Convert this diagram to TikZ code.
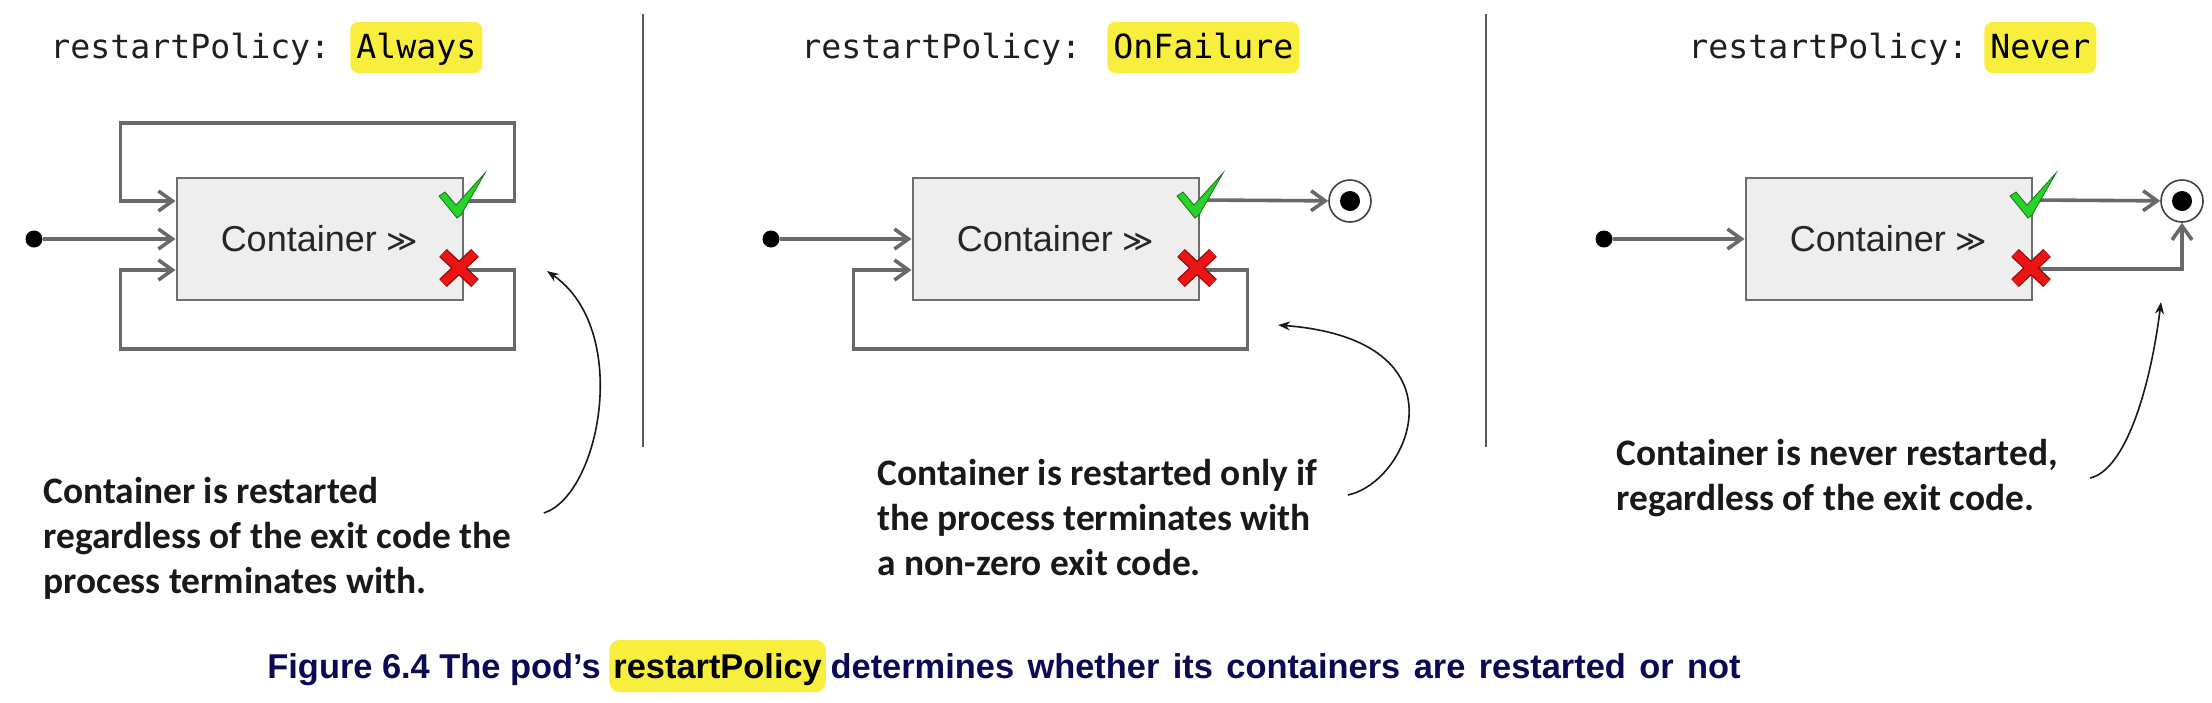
\documentclass[tikz,border=0pt]{standalone}
\usepackage{fontspec}
\setmainfont{Liberation Sans}
\newfontfamily\monofont{DejaVu Sans Mono}
\newfontfamily\notefont{Carlito}
\newfontfamily\symfont{DejaVu Sans}
\usetikzlibrary{arrows.meta, positioning}
\definecolor{linegray}{RGB}{105,105,105}
\definecolor{boxfill}{RGB}{238,238,238}
\definecolor{boxborder}{RGB}{110,110,110}
\definecolor{hlyellow}{RGB}{247,238,62}
\definecolor{okgreen}{RGB}{40,210,40}
\definecolor{errred}{RGB}{235,20,20}
\definecolor{capblue}{RGB}{10,10,85}

\begin{document}
\begin{tikzpicture}[
    x=0.5pt, y=-0.5pt,
    cbox/.style={rectangle, draw=boxborder, fill=boxfill, line width=1pt,
                 minimum width=143pt, minimum height=61pt, inner sep=0pt,
                 font=\fontsize{18}{22}\selectfont, text=black!85},
    flow/.style={draw=linegray, line width=1.8pt, -{Straight Barb[length=7pt,width=10pt]}},
    startdot/.style={circle, fill=black, minimum size=8.5pt, inner sep=0pt},
    enddot/.style={circle, draw=black!75, fill=white, line width=0.8pt,
                   minimum size=21pt, inner sep=0pt,
                   path picture={\fill[black] (path picture bounding box.center) circle (5pt);}},
    title/.style={anchor=base west, inner sep=0pt, text=black!88,
                  font=\monofont\fontsize{16.6}{20}\selectfont},
    hilite/.style={title, fill=hlyellow, rounded corners=4pt, inner xsep=3pt,
                   inner ysep=0pt, text height=18pt, text depth=7.5pt, text=black},
    note/.style={anchor=west, align=left, inner sep=0pt, text=black!90,
                 font=\notefont\bfseries\fontsize{18.7}{22.5}\selectfont},
    callout/.style={draw=black!90, line width=0.8pt, -{Stealth[length=6pt,width=4.5pt]}},
    divider/.style={draw=black!65, line width=0.9pt},
    capt/.style={anchor=base west, inner sep=0pt, text=capblue,
                 font=\bfseries\fontsize{17.2}{20}\selectfont},
    caphl/.style={capt, fill=hlyellow, rounded corners=5pt, inner xsep=2pt,
                  inner ysep=0pt, text height=19pt, text depth=7pt, text=black},
    okmark/.pic={\filldraw[fill=okgreen, draw=okgreen!55!black, line width=0.4pt]
                 (0,0) -- (-18,-22) -- (-12,-26) -- (-1,-13) -- (28,-45) -- (4,-3) -- cycle;},
    errmark/.pic={\draw[line width=5.5pt, errred!60!black] (-16,-15) -- (16,15) (-16,15) -- (16,-15);
                  \draw[line width=4.2pt, errred] (-16,-15) -- (16,15) (-16,15) -- (16,-15);}
]
\fill[white, use as bounding box] (0,0) rectangle (2212,702);

% titles
\node[title]  (t1) at (50,58)   {restartPolicy:};
\node[hilite] (v1) at (350,58)  {Always};
\node[title]  (t2) at (801,58)  {restartPolicy:};
\node[hilite] (v2) at (1107,58) {OnFailure\hspace{6pt}};
\node[title]  (t3) at (1688,58) {restartPolicy:};
\node[hilite] (v3) at (1984,58) {Never};

\draw[divider] (643,14) -- (643,447);
\draw[divider] (1486,14) -- (1486,447);

% Always
\node[cbox] (box1) at (319.5,239) {Container {\symfont\fontsize{15}{18}\selectfont ≫}};
\node[startdot] (s1) at (34,239) {};
\coordinate (ok1)  at ([yshift=-12pt]box1.north east);
\coordinate (err1) at ([yshift=15.5pt]box1.south east);
\draw[flow] (s1) -- (box1);
\draw[flow] (ok1) -- ++(51,0) -- ++(0,-78) -- ++(-394,0) -- ++(0,78) -- (box1.west |- ok1);
\draw[flow] (err1) -- ++(51,0) -- ++(0,79) -- ++(-394,0) -- ++(0,-79) -- (box1.west |- err1);
\pic at (457,218) {okmark};
\pic at (459,268) {errmark};

% OnFailure
\node[cbox] (box2) at (1055.5,239) {Container {\symfont\fontsize{15}{18}\selectfont ≫}};
\node[startdot] (s2) at (771,239) {};
\node[enddot] (end2) at (1350,201) {};
\coordinate (ok2)  at ([yshift=-11.5pt]box2.north east);
\coordinate (err2) at ([yshift=15.5pt]box2.south east);
\draw[flow] (s2) -- (box2);
\draw[flow] (ok2) -- (end2);
\draw[flow] (err2) -- ++(48,0) -- ++(0,79) -- ++(-394,0) -- ++(0,-79) -- (box2.west |- err2);
\pic at (1195,218) {okmark};
\pic at (1197,268) {errmark};

% Never
\node[cbox] (box3) at (1888.5,239) {Container {\symfont\fontsize{15}{18}\selectfont ≫}};
\node[startdot] (s3) at (1604,239) {};
\node[enddot] (end3) at (2182,201) {};
\coordinate (ok3)  at ([yshift=-11.5pt]box3.north east);
\coordinate (err3) at ([yshift=16pt]box3.south east);
\draw[flow] (s3) -- (box3);
\draw[flow] (ok3) -- (end3);
\draw[flow] (err3) -| (end3);
\pic at (2028,218) {okmark};
\pic at (2031,268) {errmark};

% notes
\node[note] (note1) at (43,538)  {Container is restarted\\regardless of the exit code the\\process terminates with.};
\node[note] (note2) at (877,518) {Container is restarted only if\\the process terminates with\\a non-zero exit code.};
\node[note] (note3) at (1616,478) {Container is never restarted,\\regardless of the exit code.};
\coordinate (tip1) at (547,271);
\coordinate (tip2) at (1278,325);
\coordinate (tip3) at (2161,302);
\draw[callout] ([xshift=16pt,yshift=12.5pt]note1.east) .. controls (600,495) and (632,330) .. (tip1);
\draw[callout] ([xshift=15pt,yshift=11.5pt]note2.east) .. controls (1410,482) and (1470,340) .. (tip2);
\draw[callout] ([xshift=16pt]note3.east) .. controls (2125,470) and (2150,390) .. (tip3);

% caption
\node[capt] (cap1) at (267,678) {Figure 6.4 The pod’s};
\node[caphl, base right=4pt of cap1] (cap2) {restartPolicy};
\node[capt, base right=2pt of cap2] (cap3) {\spaceskip 6.7pt\relax determines whether its containers are restarted or not};
\end{tikzpicture}
\end{document}
